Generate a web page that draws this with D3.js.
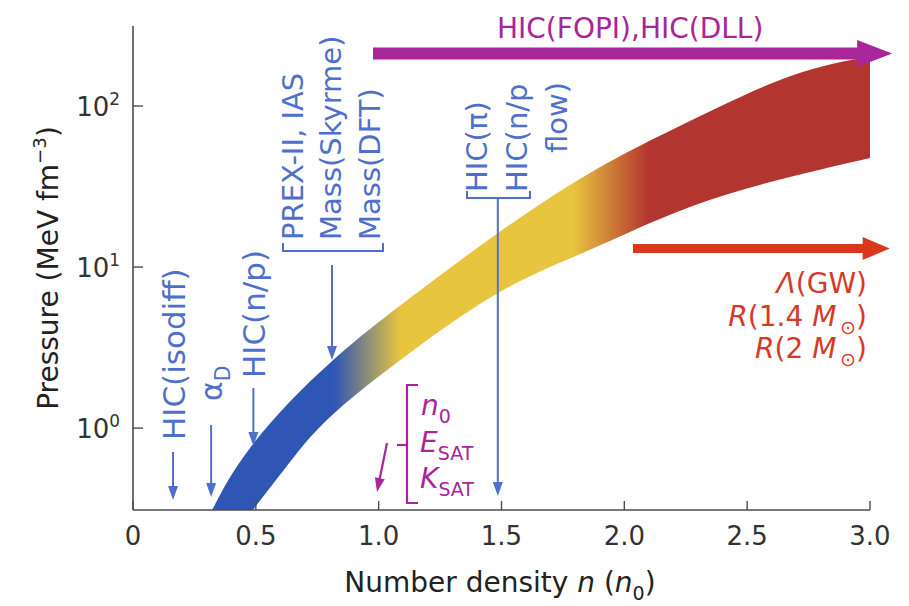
<!DOCTYPE html>
<html><head><meta charset="utf-8">
<script src="https://cdn.jsdelivr.net/npm/d3@7/dist/d3.min.js"></script>
<style>body{margin:0;background:#fff}svg{display:block}</style>
</head><body>
<svg id="c" width="909" height="606"></svg>
<script>
// ---------- data ----------
const xTickValues = [0, 0.5, 1.0, 1.5, 2.0, 2.5, 3.0];
const xTickLabels = ["0", "0.5", "1.0", "1.5", "2.0", "2.5", "3.0"];
const yTickValues = [1, 10, 100];
const yTickExponents = ["0", "1", "2"];

// band upper edge (n in n0, pressure in MeV fm^-3)
const upperN = [0.322, 0.484, 0.814, 1.209, 1.486, 1.860, 2.267, 2.674, 3.0];
const upperP = [0.31, 0.78, 2.64, 7.96, 16.3, 38.4, 80.7, 153, 203];
// band lower edge
const lowerN = [0.488, 0.639, 0.802, 1.087, 1.486, 1.860, 2.267, 2.674, 3.0];
const lowerP = [0.31, 0.615, 1.17, 2.64, 6.90, 12.8, 23.6, 36.2, 47.5];

// colour along density
const bandStopN = [0, 0.82, 1.09, 1.79, 2.10, 3.0];
const bandStopColor = ["#3056b5", "#3056b5", "#e8c53f", "#e8c53f", "#b3352f", "#b3352f"];

// probe densities (arrows)
const blueProbeN = [0.163, 0.318, 0.49, 0.81, 1.485];
const hicFopiRange = [0.977, 3.09];
const gwRange = [2.035, 3.08];

// ---------- setup ----------
const svg = d3.select("#c");
const FONT = "DejaVu Sans";
const BLUE = "#4e70cc", PURPLE = "#a8259a", REDT = "#d43a2a", REDA = "#d8381c", AX = "#4d4d4d";

const x = d3.scaleLinear().domain([0, 3]).range([133, 870]);
const y = d3.scaleLog().domain([0.31, 314]).range([510, 26]);

// gradient
const defs = svg.append("defs");
const grad = defs.append("linearGradient").attr("id", "bandGrad")
  .attr("gradientUnits", "userSpaceOnUse")
  .attr("x1", x(0)).attr("x2", x(3)).attr("y1", 0).attr("y2", 0);
bandStopN.forEach((n, i) => grad.append("stop").attr("offset", n / 3).attr("stop-color", bandStopColor[i]));
defs.append("clipPath").attr("id", "plotClip").append("rect")
  .attr("x", x(0)).attr("y", y(314) - 10).attr("width", x(3) - x(0) + 4).attr("height", y(0.31) - y(314) + 10);

// band
const upper = upperN.map((n, i) => [n, upperP[i]]);
const lower = lowerN.map((n, i) => [n, lowerP[i]]).reverse();
const lg = d3.line().x(d => x(d[0])).y(d => y(d[1])).curve(d3.curveNatural);
const dBand = lg(upper) + "L" + lg(lower).slice(1) + "Z";
svg.append("path").attr("d", dBand).attr("fill", "url(#bandGrad)").attr("clip-path", "url(#plotClip)");

// ---------- helpers ----------
function rich(sel, parts, size) {
  let shift = 0;
  parts.forEach(p => {
    const t = p[0], s = p[1] || "";
    const ts = sel.append("tspan").text(t);
    let target = 0, fs = size;
    if (s.includes("sub")) { target = size * 0.28; fs = size * 0.68; }
    if (s.includes("sup")) { target = -size * 0.42; fs = size * 0.65; }
    if (s === "i" || s.startsWith("i")) ts.attr("font-style", "italic");
    if (target - shift !== 0) ts.attr("dy", target - shift);
    ts.attr("font-size", fs);
    shift = target;
  });
}
function vtext(xb, ys, size, color, parts) {
  const t = svg.append("text").attr("transform", `translate(${xb},${ys}) rotate(-90)`)
    .attr("font-family", FONT).attr("font-size", size).attr("fill", color);
  rich(t, parts, size);
  return t;
}
function htext(xp, yp, size, color, anchor, parts) {
  const t = svg.append("text").attr("x", xp).attr("y", yp).attr("text-anchor", anchor)
    .attr("font-family", FONT).attr("font-size", size).attr("fill", color);
  rich(t, parts, size);
  return t;
}
function arrow(x1, y1, x2, y2, color, w, hl, hw) {
  const dx = x2 - x1, dy = y2 - y1, L = Math.hypot(dx, dy), ux = dx / L, uy = dy / L;
  const bx = x2 - ux * hl, by = y2 - uy * hl;
  svg.append("line").attr("x1", x1).attr("y1", y1).attr("x2", bx + ux * 2).attr("y2", by + uy * 2)
    .attr("stroke", color).attr("stroke-width", w);
  svg.append("path").attr("d", `M${x2},${y2}L${bx - uy * hw / 2},${by + ux * hw / 2}L${bx + uy * hw / 2},${by - ux * hw / 2}Z`)
    .attr("fill", color);
}
function path(d, color, w) {
  svg.append("path").attr("d", d).attr("fill", "none").attr("stroke", color).attr("stroke-width", w);
}

// ---------- axes ----------
const ax = svg.append("g");
ax.append("line").attr("x1", x(0)).attr("x2", x(0)).attr("y1", y(314)).attr("y2", y(0.31))
  .attr("stroke", AX).attr("stroke-width", 1.6);
ax.append("line").attr("x1", x(0)).attr("x2", x(3)).attr("y1", y(0.31)).attr("y2", y(0.31))
  .attr("stroke", AX).attr("stroke-width", 1.6);
xTickValues.forEach((v, i) => {
  ax.append("line").attr("x1", x(v)).attr("x2", x(v)).attr("y1", y(0.31)).attr("y2", y(0.31) - 9)
    .attr("stroke", AX).attr("stroke-width", 1.4);
  ax.append("text").attr("x", x(v)).attr("y", y(0.31) + 35).attr("text-anchor", "middle")
    .attr("font-family", FONT).attr("font-size", 26).attr("fill", "#333").text(xTickLabels[i]);
});
yTickValues.forEach((v, i) => {
  ax.append("line").attr("x1", x(0)).attr("x2", x(0) + 10).attr("y1", y(v)).attr("y2", y(v))
    .attr("stroke", AX).attr("stroke-width", 1.4);
  const t = ax.append("text").attr("x", 120).attr("y", y(v) + 10).attr("text-anchor", "end")
    .attr("font-family", FONT).attr("font-size", 26).attr("fill", "#333");
  rich(t, [["10"], [yTickExponents[i], "sup"]], 26);
});

// titles
const xt = svg.append("text").attr("x", 500).attr("y", 592).attr("text-anchor", "middle")
  .attr("font-family", FONT).attr("font-size", 28).attr("fill", "#222");
rich(xt, [["Number density "], ["n", "i"], [" ("], ["n", "i"], ["0", "sub"], [")"]], 28);
const yt = svg.append("text").attr("transform", "translate(58,268) rotate(-90)").attr("text-anchor", "middle")
  .attr("font-family", FONT).attr("font-size", 28).attr("fill", "#222");
rich(yt, [["Pressure (MeV fm"], ["\u22123", "sup"], [")"]], 28);

// ---------- blue annotations ----------
const S = 29;
vtext(185, 440, 31, BLUE, [["HIC(isodiff)"]]);
arrow(x(blueProbeN[0]), 452, x(blueProbeN[0]), 500, BLUE, 2, 14, 10);

vtext(222, 401, 30, BLUE, [["\u03b1"], ["D", "sub"]]);
arrow(x(blueProbeN[1]), 425, x(blueProbeN[1]), 497, BLUE, 2, 14, 10);

vtext(265, 378, 31, BLUE, [["HIC(n/p)"]]);
arrow(x(blueProbeN[2]), 388, x(blueProbeN[2]), 446, BLUE, 2, 14, 10);

vtext(303, 240, S, BLUE, [["PREX-II, IAS"]]);
vtext(341, 240, S, BLUE, [["Mass(Skyrme)"]]);
vtext(380, 240, S, BLUE, [["Mass(DFT)"]]);
path("M283,243V251H383V243", BLUE, 2);
arrow(x(blueProbeN[3]), 265, x(blueProbeN[3]), 360, BLUE, 2, 14, 10);

vtext(487, 192, S, BLUE, [["HIC(\u03c0)"]]);
vtext(527, 192, S, BLUE, [["HIC(n/p"]]);
vtext(567, 153, S, BLUE, [["flow)"]]);
path("M467,191V198H530V191", BLUE, 2);
arrow(x(blueProbeN[4]), 198, x(blueProbeN[4]), 496, BLUE, 2, 14, 10);

// ---------- purple annotations ----------
path("M418,385H407V503H418", PURPLE, 2.2);
path("M397,445H407", PURPLE, 2.2);
arrow(387, 443, 377, 492, PURPLE, 2.2, 14, 10);
htext(421, 415, 28, PURPLE, "start", [["n", "i"], ["0", "sub"]]);
htext(420, 452, 28, PURPLE, "start", [["E", "i"], ["SAT", "sub"]]);
htext(420, 488, 28, PURPLE, "start", [["K", "i"], ["SAT", "sub"]]);

const yF = 53.5;
arrow(x(hicFopiRange[0]), yF, x(hicFopiRange[1]), yF, PURPLE, 12, 35, 27);
htext(497, 38, 28, PURPLE, "start", [["HIC(FOPI),HIC(DLL)"]]);

// ---------- red annotations ----------
const yG = 248.5;
arrow(x(gwRange[0]), yG, x(gwRange[1]), yG, REDA, 9, 27, 23);
htext(867, 293, 28, REDT, "end", [["\u039b", "i"], ["(GW)"]]);
htext(867, 326, 28, REDT, "end", [["R", "i"], ["(1.4 "], ["M", "i"], ["\u2009\u2299", "sub"], [")"]]);
htext(867, 358, 28, REDT, "end", [["R", "i"], ["(2 "], ["M", "i"], ["\u2009\u2299", "sub"], [")"]]);
</script>
</body></html>
